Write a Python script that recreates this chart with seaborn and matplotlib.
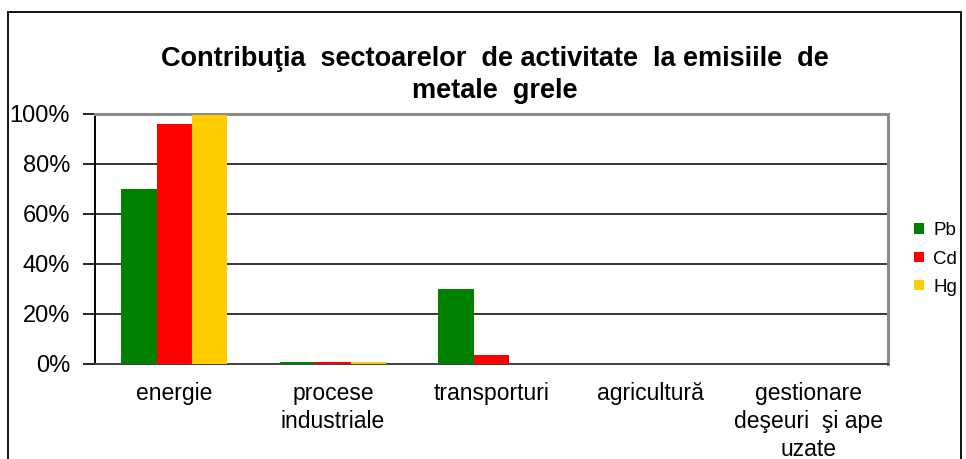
import numpy as np
import pandas as pd
import matplotlib
matplotlib.use('Agg')
import matplotlib.pyplot as plt
import seaborn as sns
from matplotlib.patches import Rectangle
from matplotlib.ticker import FuncFormatter

# data (percent)
sectors = ['energie', 'procese\nindustriale', 'transporturi', 'agricultură',
           'gestionare\ndeşeuri  şi ape\nuzate']
pb = [70.0, 0.8, 30.0, 0.0, 0.0]
cd = [96.0, 0.8, 3.6, 0.0, 0.0]
hg = [99.8, 0.7, 0.0, 0.0, 0.0]
metals = ['Pb', 'Cd', 'Hg']
colors = ['#008000', '#FF0000', '#FFCC00']

df = pd.DataFrame({
    'sector': sectors * 3,
    'metal': [m for m in metals for _ in sectors],
    'value': pb + cd + hg,
})

sns.set_style('white')
plt.rcParams['font.family'] = ['Liberation Sans', 'DejaVu Sans']
plt.rcParams['text.color'] = 'black'
plt.rcParams['xtick.color'] = 'black'
plt.rcParams['ytick.color'] = 'black'

fig = plt.figure(figsize=(9.66, 4.59), dpi=100)
ax = fig.add_axes([95 / 966, 1 - 364 / 459, (888 - 95) / 966, (364 - 114) / 459])

sns.barplot(data=df, x='sector', y='value', hue='metal', palette=colors,
            width=0.67, saturation=1, ax=ax, linewidth=0, zorder=3)

ax.set_ylim(0, 100)
ax.set_xlim(-0.5, 4.5)
ax.set_yticks(np.arange(0, 101, 20))
ax.yaxis.set_major_formatter(FuncFormatter(lambda v, p: f'{int(v)}%'))
for y in range(20, 100, 20):
    ax.axhline(y, color='black', lw=1.1, zorder=1)

ax.set_xticks(range(5))
ax.set_xticklabels(sectors, linespacing=1.27)
ax.set_xticks(np.arange(-0.5, 5, 1), minor=True)
ax.tick_params(axis='x', which='major', length=0, pad=13, labelsize=16.5, labelcolor='black')
ax.tick_params(axis='x', which='minor', length=6, width=1.2, color='#404040', direction='out')
ax.tick_params(axis='y', length=9, width=1.2, color='black', direction='out', pad=9,
               labelsize=17, left=True, labelcolor='black')

ax.set_xlabel('')
ax.set_ylabel('')

for s in ['left', 'bottom']:
    ax.spines[s].set_color('black')
    ax.spines[s].set_linewidth(1.4)
for s in ['top', 'right']:
    ax.spines[s].set_color('#8c8c8c')
    ax.spines[s].set_linewidth(2.2)
    ax.spines[s].set_visible(True)
ax.spines['bottom'].set_color('#404040')

leg = ax.legend(loc='center left', bbox_to_anchor=(1.012, 0.42), frameon=False,
                fontsize=13.5, handlelength=0.5, handleheight=0.5,
                handletextpad=0.5, labelspacing=0.6)
for t in leg.get_texts():
    t.set_color('black')

fig.text(0.512, 1 - 75 / 459, 'Contribuţia  sectoarelor  de activitate  la emisiile  de\nmetale  grele',
         ha='center', va='center', fontsize=19.5, fontweight='bold', linespacing=1.3,
         color='black')

# outer chart border
fig.patches.append(Rectangle((8 / 966, -0.05), (961 - 8) / 966, 1.05 - 12 / 459,
                             transform=fig.transFigure, fill=False,
                             edgecolor='black', lw=1.3))

fig.savefig('out.png', dpi=100)
